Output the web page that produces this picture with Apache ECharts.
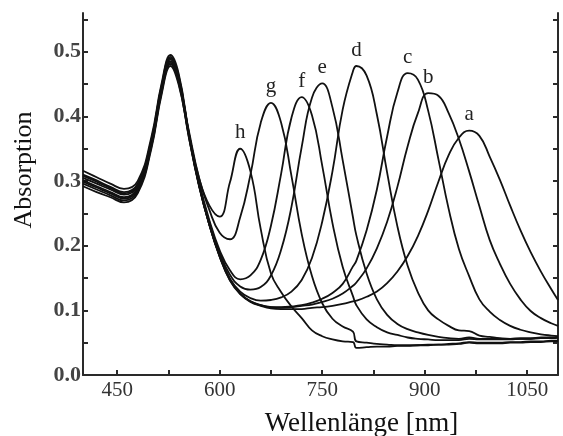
<!DOCTYPE html>
<html>
  <head>
    <meta charset="UTF-8" />
    <title></title>
    <style type="text/css">
      * {
        margin: 0;
        padding: 0;
      }

      #main {
        width: 563px;
        height: 436px;
        background-color: #fff;
      }
    </style>
  </head>

  <body>
    <div id="main"></div>
  </body>
  <script src="https://cdn.jsdelivr.net/npm/echarts@6/dist/echarts.min.js"></script>
  <script type="text/javascript">
    // Wellenlänge [nm]
    var wavelengths = [400, 420, 440, 460, 480, 500, 515, 528, 540, 555, 570, 585, 600, 615, 630, 645, 660, 675, 690, 705,
      720, 735, 750, 765, 780, 795, 800, 815, 830, 845, 860, 875, 890, 905, 920, 935, 950, 965, 980, 995,
      1010, 1025, 1040, 1055, 1070, 1085, 1095]

    // Absorption, Kurven a - h
    var curveA = [0.310, 0.301, 0.291, 0.283, 0.296, 0.364, 0.448, 0.492, 0.463, 0.372, 0.293, 0.232, 0.183, 0.146, 0.125, 0.113,
      0.107, 0.103, 0.102, 0.102, 0.102, 0.104, 0.105, 0.107, 0.110, 0.114, 0.115, 0.121, 0.129, 0.142, 0.160, 0.184,
      0.215, 0.254, 0.299, 0.340, 0.367, 0.378, 0.370, 0.338, 0.302, 0.262, 0.224, 0.190, 0.160, 0.133, 0.116]
    var curveB = [0.301, 0.292, 0.283, 0.275, 0.289, 0.357, 0.441, 0.485, 0.456, 0.368, 0.291, 0.232, 0.183, 0.147, 0.126, 0.114,
      0.108, 0.105, 0.104, 0.105, 0.107, 0.109, 0.113, 0.118, 0.126, 0.138, 0.143, 0.165, 0.196, 0.237, 0.291, 0.354,
      0.405, 0.436, 0.432, 0.405, 0.365, 0.315, 0.261, 0.209, 0.172, 0.141, 0.117, 0.099, 0.088, 0.080, 0.076]
    var curveC = [0.316, 0.306, 0.296, 0.288, 0.300, 0.368, 0.451, 0.495, 0.466, 0.374, 0.294, 0.232, 0.184, 0.148, 0.126, 0.114,
      0.108, 0.105, 0.105, 0.106, 0.108, 0.112, 0.118, 0.127, 0.141, 0.168, 0.177, 0.224, 0.287, 0.369, 0.437, 0.467,
      0.457, 0.409, 0.334, 0.257, 0.195, 0.153, 0.117, 0.098, 0.085, 0.076, 0.070, 0.066, 0.063, 0.061, 0.060]
    var curveD = [0.305, 0.296, 0.287, 0.279, 0.292, 0.360, 0.444, 0.488, 0.459, 0.370, 0.292, 0.232, 0.185, 0.149, 0.129, 0.119,
      0.115, 0.116, 0.120, 0.129, 0.147, 0.181, 0.237, 0.315, 0.411, 0.470, 0.478, 0.463, 0.403, 0.313, 0.230, 0.169,
      0.128, 0.100, 0.086, 0.076, 0.069, 0.068, 0.061, 0.059, 0.057, 0.056, 0.056, 0.056, 0.057, 0.057, 0.058]
    var curveE = [0.296, 0.287, 0.278, 0.270, 0.284, 0.353, 0.437, 0.481, 0.452, 0.367, 0.293, 0.236, 0.189, 0.155, 0.137, 0.132,
      0.136, 0.154, 0.194, 0.260, 0.353, 0.429, 0.451, 0.414, 0.332, 0.244, 0.216, 0.157, 0.117, 0.093, 0.079, 0.071,
      0.066, 0.062, 0.059, 0.057, 0.056, 0.058, 0.056, 0.056, 0.056, 0.056, 0.057, 0.057, 0.058, 0.058, 0.059]
    var curveF = [0.308, 0.299, 0.289, 0.281, 0.294, 0.362, 0.446, 0.490, 0.461, 0.373, 0.298, 0.239, 0.193, 0.162, 0.148, 0.154,
      0.178, 0.231, 0.312, 0.398, 0.430, 0.402, 0.324, 0.235, 0.167, 0.122, 0.108, 0.086, 0.074, 0.066, 0.062, 0.058,
      0.056, 0.055, 0.054, 0.054, 0.054, 0.056, 0.055, 0.055, 0.055, 0.055, 0.056, 0.056, 0.057, 0.057, 0.058]
    var curveG = [0.299, 0.290, 0.281, 0.273, 0.287, 0.355, 0.439, 0.483, 0.454, 0.377, 0.304, 0.255, 0.220, 0.210, 0.244, 0.310,
      0.390, 0.421, 0.390, 0.308, 0.218, 0.153, 0.111, 0.087, 0.075, 0.067, 0.052, 0.050, 0.048, 0.047, 0.046, 0.046,
      0.046, 0.047, 0.047, 0.048, 0.049, 0.051, 0.050, 0.050, 0.050, 0.051, 0.051, 0.052, 0.052, 0.053, 0.053]
    var curveH = [0.292, 0.283, 0.275, 0.267, 0.281, 0.350, 0.434, 0.478, 0.449, 0.372, 0.304, 0.262, 0.245, 0.298, 0.350, 0.315,
      0.226, 0.157, 0.128, 0.106, 0.088, 0.069, 0.060, 0.055, 0.052, 0.051, 0.042, 0.043, 0.044, 0.044, 0.045, 0.045,
      0.046, 0.046, 0.047, 0.047, 0.048, 0.050, 0.049, 0.049, 0.049, 0.050, 0.050, 0.051, 0.051, 0.052, 0.052]

    var curveNames = ['a', 'b', 'c', 'd', 'e', 'f', 'g', 'h']
    var curves = [curveA, curveB, curveC, curveD, curveE, curveF, curveG, curveH]

    var xTickValues = [450, 600, 750, 900, 1050]
    var xMinorValues = [525, 675, 825, 975]
    var yTickValues = [0, 0.1, 0.2, 0.3, 0.4, 0.5]
    var yMinorValues = [0.05, 0.15, 0.25, 0.35, 0.45, 0.55]

    var serif = "'Liberation Serif', 'Times New Roman', serif"
    var axisColor = '#2a2a2a'

    var series = []
    curves.forEach((values, index) => {
      var points = wavelengths.map((w, i) => [w, values[i]])
      // Beschriftung am Maximum der langwelligen Bande
      var peak = null
      points.forEach((p) => {
        if (p[0] >= 580 && (!peak || p[1] > peak[1])) peak = p
      })
      series.push({
        name: curveNames[index],
        type: 'line',
        data: points,
        smooth: 0.45,
        showSymbol: false,
        silent: true,
        lineStyle: {
          color: '#111',
          width: 1.8
        },
        markPoint: {
          symbol: 'circle',
          symbolSize: 1,
          itemStyle: { color: 'rgba(0,0,0,0)' },
          label: {
            show: true,
            position: 'top',
            distance: 5,
            formatter: curveNames[index],
            color: '#222',
            fontFamily: serif,
            fontSize: 21
          },
          data: [{ coord: peak }]
        }
      })
    })

    initChart(series)
    function initChart(series) {
      let myCharts = echarts.init(document.getElementById('main'))
      let option = {
        animation: false,
        grid: {
          left: 83,
          right: 5,
          top: 13,
          bottom: 61,
          outerBoundsMode: 'none'
        },
        xAxis: [
          {
            type: 'value',
            min: 400,
            max: 1095,
            name: 'Wellenlänge [nm]',
            nameLocation: 'middle',
            nameGap: 35,
            nameTextStyle: {
              fontFamily: serif,
              fontSize: 27,
              color: '#111',
              padding: [0, 0, 0, 82]
            },
            axisLine: { lineStyle: { color: axisColor, width: 2 } },
            axisTick: {
              inside: true,
              length: 5,
              customValues: xTickValues.concat(xMinorValues),
              lineStyle: { color: axisColor, width: 2 }
            },
            axisLabel: {
              customValues: xTickValues,
              margin: 5,
              fontFamily: serif,
              fontSize: 21,
              color: '#333',
              formatter: (v) => String(v)
            },
            splitLine: { show: false }
          }
        ],
        yAxis: [
          {
            type: 'value',
            min: 0,
            max: 0.56,
            position: 'left',
            name: 'Absorption',
            nameLocation: 'middle',
            nameGap: 46,
            nameTextStyle: {
              fontFamily: serif,
              fontSize: 26,
              color: '#111',
              padding: [0, 0, 0, 48]
            },
            axisLine: { show: true, lineStyle: { color: axisColor, width: 2 } },
            axisTick: {
              show: true,
              inside: true,
              length: 5,
              customValues: yTickValues.concat(yMinorValues),
              lineStyle: { color: axisColor, width: 2 }
            },
            axisLabel: {
              customValues: yTickValues,
              margin: 2,
              fontFamily: serif,
              fontSize: 22,
              fontWeight: 'bold',
              color: '#444',
              formatter: (v) => v.toFixed(1)
            },
            splitLine: { show: false }
          },
          {
            type: 'value',
            min: 0,
            max: 0.56,
            position: 'right',
            axisLine: { show: true, lineStyle: { color: axisColor, width: 2 } },
            axisTick: {
              show: true,
              inside: true,
              length: 5,
              customValues: yTickValues.concat(yMinorValues),
              lineStyle: { color: axisColor, width: 2 }
            },
            axisLabel: { show: false },
            splitLine: { show: false }
          }
        ],
        series: series
      }
      myCharts.clear()
      myCharts.setOption(option)
      window.addEventListener('resize', () => {
        myCharts.resize()
      })
    }
  </script>
</html>
